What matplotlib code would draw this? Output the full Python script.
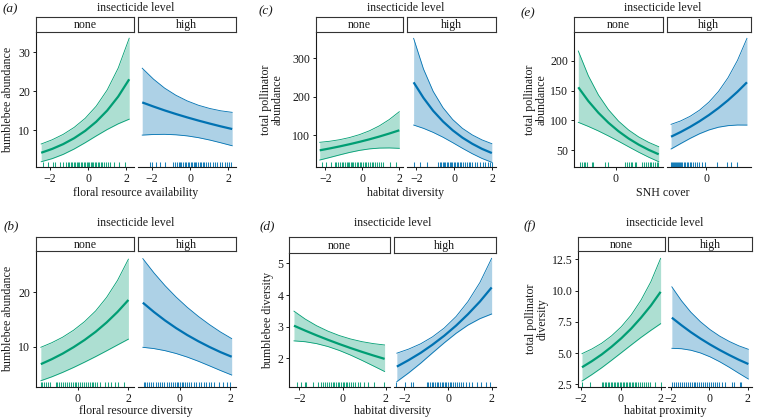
import matplotlib
matplotlib.use("Agg")
import matplotlib.pyplot as plt

plt.rcParams['font.family'] = ['Liberation Serif', 'DejaVu Serif']

W, H = 757, 418
GREEN = '#009E73'
BLUE = '#0072B2'
INK = '#1a1a1a'
FS = 8.6

# ---- (a) bumblebee abundance ~ floral resource availability
a_x_none = [-2.45, -1.875, -1.3, -0.725, -0.15, 0.425, 1.0, 1.575, 2.15]
a_fit_none = [4.16, 5.15, 6.38, 7.91, 9.79, 12.13, 15.02, 18.61, 23.05]
a_lo_none = [1.85, 2.65, 3.74, 5.13, 6.75, 8.48, 10.14, 11.60, 12.8]
a_hi_none = [6.41, 7.50, 8.89, 10.69, 13.02, 16.14, 20.31, 25.94, 33.6]
a_x_high = [-2.5, -1.91, -1.33, -0.74, -0.15, 0.44, 1.03, 1.61, 2.2]
a_fit_high = [17.1, 16.04, 15.05, 14.12, 13.25, 12.43, 11.66, 10.94, 10.26]
a_lo_high = [8.7, 8.86, 8.90, 8.78, 8.50, 8.04, 7.43, 6.72, 5.96]
a_hi_high = [25.9, 23.08, 20.78, 18.94, 17.49, 16.37, 15.54, 14.94, 14.55]
a_rug_none = [-2.33, -2.07, -1.81, -1.72, -1.46, -1.29, -1.15, -1.05, -0.98, -0.9, -0.82,
              -0.75, -0.66, -0.6, -0.52, -0.45, -0.38, -0.3, -0.22, -0.15, -0.08, 0.0, 0.07,
              0.13, 0.2, 0.28, 0.35, 0.42, 0.5, 0.58, 0.66, 0.75, 0.84, 0.95, 1.05, 1.12,
              1.38, 1.64, 1.95]
a_rug_high = [-2.1, -1.99, -1.78, -1.56, -1.33, -0.89, -0.8, -0.7, -0.6, -0.52, -0.45, -0.35,
              -0.28, -0.2, -0.12, -0.05, 0.03, 0.1, 0.18, 0.25, 0.33, 0.4, 0.5, 0.58, 0.66,
              0.75, 0.85, 0.95, 1.05, 1.2, 1.3, 1.42, 1.55, 1.68, 1.8, 1.95, 2.05, 2.13]

# ---- (b) bumblebee abundance ~ floral resource diversity
b_x_none = [-1.45, -1.02, -0.59, -0.16, 0.275, 0.71, 1.14, 1.57, 2.0]
b_fit_none = [6.8, 7.71, 8.74, 9.92, 11.25, 12.75, 14.46, 16.40, 18.6]
b_lo_none = [3.75, 4.47, 5.29, 6.19, 7.17, 8.19, 9.25, 10.33, 11.4]
b_hi_none = [9.9, 10.74, 11.76, 13.04, 14.63, 16.59, 19.07, 22.19, 26.1]
b_x_high = [-1.45, -1.01, -0.575, -0.14, 0.3, 0.74, 1.175, 1.61, 2.05]
b_fit_high = [18.1, 16.38, 14.83, 13.43, 12.15, 11.0, 9.96, 9.01, 8.16]
b_lo_high = [9.9, 9.66, 9.28, 8.76, 8.10, 7.33, 6.49, 5.63, 4.8]
b_hi_high = [26.2, 23.57, 21.23, 19.14, 17.25, 15.57, 14.07, 12.71, 11.5]
b_rug_none = [-1.45, -1.4, -1.33, -1.25, -1.18, -1.1, -0.87, -0.8, -0.72, -0.65, -0.58, -0.5,
              -0.42, -0.35, -0.28, -0.2, -0.12, -0.05, 0.02, 0.1, 0.18, 0.25, 0.33, 0.4, 0.48,
              0.55, 0.62, 0.7, 0.78, 0.87, 1.06, 1.2, 1.33, 1.48, 1.58, 1.84]
b_rug_high = [-1.42, -1.35, -1.28, -1.2, -1.12, -1.05, -0.95, -0.85, -0.78, -0.7, -0.6, -0.5,
              -0.42, -0.35, -0.27, -0.2, -0.12, -0.05, 0.02, 0.08, 0.15, 0.22, 0.3, 0.38, 0.45,
              0.55, 0.65, 0.75, 0.85, 0.95, 1.05, 1.15, 1.25, 1.34, 1.54, 1.72, 1.85, 2.0]

# ---- (c) total pollinator abundance ~ habitat diversity
c_x_none = [-2.3, -1.76, -1.225, -0.69, -0.15, 0.39, 0.925, 1.46, 2.0]
c_fit_none = [60.1, 64.99, 70.27, 75.98, 82.16, 88.84, 96.07, 103.88, 112.3]
c_lo_none = [34.8, 41.36, 48.13, 54.55, 59.97, 63.85, 65.95, 66.32, 65.3]
c_hi_none = [81.0, 83.73, 87.77, 93.41, 101.06, 111.1, 124.0, 140.4, 160.8]
c_x_high = [-2.15, -1.63, -1.12, -0.6, -0.085, 0.43, 0.95, 1.46, 1.98]
c_fit_high = [237.4, 196.8, 163.2, 135.3, 112.2, 93.0, 77.1, 63.9, 53.0]
c_lo_high = [126.0, 117.4, 106.9, 94.3, 80.1, 65.3, 51.2, 38.9, 28.8]
c_hi_high = [352.0, 272.2, 214.0, 171.4, 140.3, 117.3, 100.2, 87.3, 77.4]
c_rug_none = [-2.16, -1.98, -1.68, -1.5, -1.4, -1.3, -1.22, -1.12, -1.02, -0.95, -0.85, -0.78,
              -0.7, -0.62, -0.55, -0.48, -0.4, -0.3, -0.22, -0.12, -0.05, 0.05, 0.15, 0.22,
              0.32, 0.42, 0.5, 0.6, 0.7, 0.8, 0.92, 1.02, 1.11, 1.48, 1.84]
c_rug_high = [-2.15, -1.8, -1.46, -0.86, -0.78, -0.7, -0.62, -0.55, -0.48, -0.4, -0.33, -0.25,
              -0.18, -0.1, -0.02, 0.05, 0.12, 0.2, 0.28, 0.36, 0.45, 0.55, 0.65, 0.75, 0.85,
              0.95, 1.08, 1.2, 1.35, 1.5, 1.62, 1.78, 1.88, 1.98]

# ---- (d) bumblebee diversity ~ habitat diversity
d_x_none = [-2.25, -1.725, -1.2, -0.675, -0.15, 0.375, 0.9, 1.425, 1.95]
d_fit_none = [3.03, 2.873, 2.724, 2.583, 2.449, 2.322, 2.202, 2.088, 1.98]
d_lo_none = [2.55, 2.522, 2.462, 2.370, 2.247, 2.099, 1.933, 1.758, 1.58]
d_hi_none = [3.49, 3.238, 3.028, 2.857, 2.718, 2.609, 2.525, 2.463, 2.42]
d_x_high = [-2.35, -1.81, -1.26, -0.72, -0.175, 0.37, 0.91, 1.46, 2.0]
d_fit_high = [1.735, 1.940, 2.169, 2.426, 2.712, 3.033, 3.391, 3.792, 4.24]
d_lo_high = [1.26, 1.535, 1.841, 2.166, 2.488, 2.789, 3.047, 3.252, 3.40]
d_hi_high = [2.16, 2.289, 2.456, 2.674, 2.956, 3.322, 3.792, 4.395, 5.16]
d_rug_none = [-2.12, -1.92, -1.74, -1.68, -1.35, -1.12, -1.0, -0.9, -0.8, -0.72, -0.62, -0.55,
              -0.45, -0.38, -0.3, -0.22, -0.15, -0.08, 0.0, 0.08, 0.15, 0.22, 0.3, 0.4, 0.5,
              0.6, 0.7, 0.8, 1.0, 1.2, 1.45, 1.92]
d_rug_high = [-2.38, -1.99, -1.68, -1.62, -0.97, -0.9, -0.82, -0.75, -0.68, -0.6, -0.52, -0.45,
              -0.38, -0.3, -0.22, -0.15, -0.08, 0.0, 0.08, 0.15, 0.22, 0.3, 0.4, 0.5, 0.6,
              0.7, 0.82, 0.95, 1.1, 1.35, 1.5, 1.75, 1.92]

# ---- (e) total pollinator abundance ~ SNH cover
e_x_none = [-0.7, -0.5125, -0.325, -0.1375, 0.05, 0.2375, 0.425, 0.6125, 0.8]
e_fit_none = [155.6, 132.4, 112.7, 95.9, 81.6, 69.4, 59.1, 50.3, 42.8]
e_lo_none = [96.6, 89.7, 82.1, 73.7, 64.8, 55.5, 46.4, 37.9, 30.3]
e_hi_none = [216.7, 175.0, 142.8, 118.0, 98.7, 83.8, 72.1, 62.9, 55.6]
e_x_high = [-0.7, -0.5125, -0.325, -0.1375, 0.05, 0.2375, 0.425, 0.6125, 0.8]
e_fit_high = [72.4, 80.19, 88.82, 98.38, 108.97, 120.7, 133.7, 148.1, 164.0]
e_lo_high = [51.7, 60.7, 69.5, 77.4, 83.8, 88.4, 91.0, 92.1, 92.0]
e_hi_high = [93.2, 98.9, 106.7, 117.1, 130.8, 148.6, 171.6, 200.9, 238.0]
e_rug_none = [-0.66, -0.63, -0.6, -0.57, -0.54, -0.45, -0.43, -0.2, -0.14, 0.17, 0.2, 0.24,
              0.28, 0.31, 0.35, 0.38, 0.48, 0.52, 0.56, 0.6, 0.63, 0.66, 0.7, 0.73, 0.76, 0.79]
e_rug_high = [-0.70, -0.68, -0.66, -0.64, -0.62, -0.6, -0.58, -0.56, -0.54, -0.52, -0.5, -0.48,
              -0.45, -0.42, -0.39, -0.36, -0.33, -0.3, -0.26, -0.22, -0.18, -0.14, -0.08,
              -0.02, 0.2, 0.41, 0.48, 0.6]

# ---- (f) total pollinator diversity ~ habitat proximity
f_x_none = [-1.95, -1.46, -0.96, -0.47, 0.025, 0.52, 1.01, 1.51, 2.0]
f_fit_none = [3.86, 4.342, 4.885, 5.495, 6.181, 6.953, 7.822, 8.799, 9.9]
f_lo_none = [2.76, 3.265, 3.82, 4.412, 5.025, 5.642, 6.244, 6.816, 7.35]
f_hi_none = [4.95, 5.32, 5.786, 6.37, 7.108, 8.041, 9.221, 10.708, 12.58]
f_x_high = [-1.95, -1.45, -0.96, -0.46, 0.04, 0.54, 1.04, 1.53, 2.03]
f_fit_high = [7.83, 7.226, 6.669, 6.154, 5.680, 5.242, 4.837, 4.464, 4.12]
f_lo_high = [5.38, 5.345, 5.224, 5.006, 4.694, 4.302, 3.855, 3.384, 2.92]
f_hi_high = [10.3, 9.19, 8.268, 7.504, 6.873, 6.353, 5.927, 5.58, 5.3]
f_rug_none = [-1.95, -1.53, -0.95, -0.88, -0.8, -0.72, -0.65, -0.58, -0.5, -0.42, -0.35, -0.28,
              -0.2, -0.12, -0.05, 0.02, 0.1, 0.18, 0.25, 0.32, 0.4, 0.48, 0.55, 0.63, 0.7,
              0.78, 0.86, 0.95, 1.05, 1.15, 1.25, 1.35, 1.47, 1.72, 2.0]
f_rug_high = [-1.92, -1.82, -1.72, -1.62, -1.52, -1.42, -1.3, -1.2, -1.1, -1.0, -0.9, -0.82,
              -0.72, -0.62, -0.52, -0.42, -0.32, -0.22, -0.12, -0.02, 0.08, 0.18, 0.28, 0.4,
              0.52, 0.65, 0.83, 1.17, 1.3, 1.58, 1.67]

# axis ticks and labels
a_xticks, a_yticks = [-2, 0, 2], [10, 20, 30]
b_xticks, b_yticks = [0, 2], [10, 20]
c_xticks, c_yticks = [-2, 0, 2], [100, 200, 300]
d_xticks, d_yticks = [-2, 0, 2], [2, 3, 4, 5]
e_xticks, e_yticks = [0], [50, 100, 150, 200]
f_xticks, f_yticks = [-2, 0, 2], [2.5, 5.0, 7.5, 10.0, 12.5]
f_ytick_labels = ['2.5', '5.0', '7.5', '10.0', '12.5']
facet_names = ['none', 'high']


def rect(x0, y0, x1, y1):
    return [x0 / W, 1 - y1 / H, (x1 - x0) / W, (y1 - y0) / H]


def facet(fig, box, x, fit, lo, hi, rug, color, xlim, ylim, xticks, yticks,
          left, ylabels=None):
    ax = fig.add_axes(rect(*box))
    ax.fill_between(x, lo, hi, color=color, alpha=0.32, lw=0)
    ax.plot(x, lo, color=color, lw=0.6)
    ax.plot(x, hi, color=color, lw=0.6)
    ax.plot(x, fit, color=color, lw=1.6, solid_capstyle='butt')
    rugs = ax.vlines(rug, 0, 0.04, transform=ax.get_xaxis_transform(),
                     color=color, lw=0.75, alpha=0.9)
    rugs.set_snap(True)
    ax.set_xlim(xlim)
    ax.set_ylim(ylim)
    ax.set_xticks(xticks)
    ax.set_xticklabels([f"{t:g}".replace('-', '\u2212') for t in xticks])
    for s in ['top', 'right']:
        ax.spines[s].set_visible(False)
    ax.spines['bottom'].set_color(INK)
    ax.spines['bottom'].set_linewidth(0.8)
    if left:
        ax.set_yticks(yticks)
        ax.set_yticklabels(ylabels if ylabels else [f"{t:g}" for t in yticks])
        ax.spines['left'].set_color(INK)
        ax.spines['left'].set_linewidth(0.8)
    else:
        ax.set_yticks([])
        ax.spines['left'].set_visible(False)
    ax.tick_params(length=2.5, width=0.7, color=INK, pad=1.5,
                   labelsize=FS, labelcolor=INK)
    ax.patch.set_alpha(0)
    return ax


def strip(fig, x0, x1, y0, y1, label):
    ax = fig.add_axes(rect(x0, y0, x1, y1))
    ax.set_xticks([])
    ax.set_yticks([])
    for s in ax.spines.values():
        s.set_color('#333333')
        s.set_linewidth(0.8)
    ax.text(0.5, 0.45, label, ha='center', va='center', fontsize=FS,
            color=INK, transform=ax.transAxes)


def panel(fig, tag, tag_xy, boxes, strip_top, title_y, xlab, xlab_y,
          ylab, ylab_x, curves, xlim, ylim, xticks, yticks, ylabels=None):
    bn, bh = boxes
    colors = [GREEN, BLUE]
    for i, (box, cur) in enumerate(zip(boxes, curves)):
        facet(fig, box, *cur, colors[i], xlim, ylim, xticks, yticks,
              left=(i == 0), ylabels=ylabels)
        strip(fig, box[0], box[2], strip_top, box[1], facet_names[i])
    xc = (bn[0] + bh[2]) / 2 / W
    fig.text(xc, 1 - title_y / H, 'insecticide level', ha='center',
             va='center', fontsize=FS, color=INK)
    fig.text(xc, 1 - xlab_y / H, xlab, ha='center', va='center',
             fontsize=FS, color=INK)
    yc = 1 - (bn[1] + bn[3]) / 2 / H
    fig.text(ylab_x / W, yc, ylab, ha='center', va='center', rotation=90,
             fontsize=FS, color=INK, multialignment='center', linespacing=1.0)
    fig.text(tag_xy[0] / W, 1 - tag_xy[1] / H, tag, ha='center',
             va='center', fontsize=9.5, style='italic', color=INK)


fig = plt.figure(figsize=(W / 100, H / 100), dpi=100)

panel(fig, '(a)', (10, 9), [(36, 32, 134, 167), (138, 32, 236, 167)], 17, 8,
      'floral resource availability', 193, 'bumblebee abundance', 8,
      [(a_x_none, a_fit_none, a_lo_none, a_hi_none, a_rug_none),
       (a_x_high, a_fit_high, a_lo_high, a_hi_high, a_rug_high)],
      (-2.72, 2.4), (0.5, 35.2), a_xticks, a_yticks)

panel(fig, '(b)', (11, 226), [(36, 251, 134, 387), (138, 251, 236, 387)], 237, 223,
      'floral resource diversity', 411, 'bumblebee abundance', 8,
      [(b_x_none, b_fit_none, b_lo_none, b_hi_none, b_rug_none),
       (b_x_high, b_fit_high, b_lo_high, b_hi_high, b_rug_high)],
      (-1.64, 2.22), (2.6, 27.6), b_xticks, b_yticks)

panel(fig, '(c)', (266, 11), [(316, 32, 403, 167), (407, 32, 496, 167)], 17, 8,
      'habitat diversity', 193, 'total pollinator\nabundance', 272,
      [(c_x_none, c_fit_none, c_lo_none, c_hi_none, c_rug_none),
       (c_x_high, c_fit_high, c_lo_high, c_hi_high, c_rug_high)],
      (-2.5, 2.2), (16.6, 368.6), c_xticks, c_yticks)

panel(fig, '(d)', (267, 226), [(289, 253, 390, 387), (394, 253, 496, 387)], 237, 223,
      'habitat diversity', 411, 'bumblebee diversity', 268,
      [(d_x_none, d_fit_none, d_lo_none, d_hi_none, d_rug_none),
       (d_x_high, d_fit_high, d_lo_high, d_hi_high, d_rug_high)],
      (-2.48, 2.2), (1.09, 5.33), d_xticks, d_yticks)

panel(fig, '(e)', (528, 13), [(574, 32, 663, 167), (667, 32, 751, 167)], 17, 8,
      'SNH cover', 193, 'total pollinator\nabundance', 536,
      [(e_x_none, e_fit_none, e_lo_none, e_hi_none, e_rug_none),
       (e_x_high, e_fit_high, e_lo_high, e_hi_high, e_rug_high)],
      (-0.78, 0.88), (21.4, 248.7), e_xticks, e_yticks)

panel(fig, '(f)', (530, 226), [(578, 251, 665, 387), (668, 251, 752, 387)], 237, 223,
      'habitat proximity', 411, 'total pollinator\ndiversity', 537,
      [(f_x_none, f_fit_none, f_lo_none, f_hi_none, f_rug_none),
       (f_x_high, f_fit_high, f_lo_high, f_hi_high, f_rug_high)],
      (-2.15, 2.22), (2.28, 13.17), f_xticks, f_yticks, ylabels=f_ytick_labels)

fig.savefig('out.png', dpi=100)
